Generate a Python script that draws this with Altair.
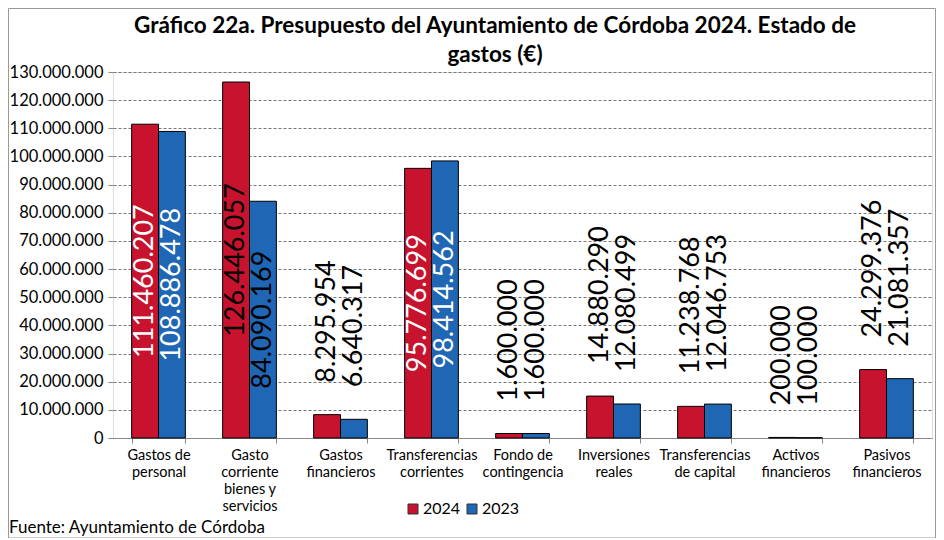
import altair as alt
import pandas as pd

categories = ["Gastos de|personal", "Gasto|corriente|bienes y|servicios", "Gastos|financieros",
              "Transferencias|corrientes", "Fondo de|contingencia", "Inversiones|reales",
              "Transferencias|de capital", "Activos|financieros", "Pasivos|financieros"]
years = ["2024", "2023"]
v2024 = [111460207, 126446057, 8295954, 95776699, 1600000, 14880290, 11238768, 200000, 24299376]
v2023 = [108886478, 84090169, 6640317, 98414562, 1600000, 12080499, 12046753, 100000, 21081357]
y_ticks = [0, 10000000, 20000000, 30000000, 40000000, 50000000, 60000000, 70000000,
           80000000, 90000000, 100000000, 110000000, 120000000, 130000000]
title_lines = ["Gráfico 22a. Presupuesto del Ayuntamiento de Córdoba 2024. Estado de", "gastos (€)"]
source = "Fuente: Ayuntamiento de Córdoba"

rows = []
for i, c in enumerate(categories):
    rows.append({"cat": c, "year": "2024", "value": v2024[i]})
    rows.append({"cat": c, "year": "2023", "value": v2023[i]})
df = pd.DataFrame(rows)

W, H = 819, 366
RED, BLUE = "#C8132E", "#1F67B4"
FONT = "Lato"

xaxis = alt.Axis(labelExpr="isValid(datum.value) ? split(datum.value, '|') : ''",
                 labelAngle=0, tickBand="extent", title=None,
                 labelFont=FONT, labelFontSize=14.5, labelColor="#000", labelLineHeight=17,
                 labelPadding=5, tickSize=5, tickColor="#888", domainColor="#888",
                 labelBaseline="top")
yaxis = alt.Axis(values=y_ticks, format=",d", labelOverlap=False, title=None,
                 labelFont=FONT, labelFontSize=16.5, labelColor="#000",
                 gridDash=[3, 2], gridColor="#777", gridWidth=1,
                 tickSize=5, tickColor="#888", domain=False, labelPadding=5)
xscale = alt.Scale(paddingInner=0.41, paddingOuter=0.205)
yscale = alt.Scale(domain=[0, 130000000], nice=False)
xenc = alt.X("cat:N", sort=categories, scale=xscale, axis=xaxis)
xoff = alt.XOffset("year:N", sort=years, scale=alt.Scale(paddingInner=0, paddingOuter=0))

bars = alt.Chart(df).mark_bar(stroke="#000", strokeWidth=1).encode(
    x=xenc, xOffset=xoff,
    y=alt.Y("value:Q", scale=yscale, axis=yaxis),
    color=alt.Color("year:N", scale=alt.Scale(domain=years, range=[RED, BLUE]), title=None,
                    legend=alt.Legend(orient="none", legendX=292, legendY=429, direction="horizontal",
                                      symbolType="square", symbolSize=100, symbolStrokeColor="#333",
                                      symbolStrokeWidth=1, labelFont=FONT, labelFontSize=16,
                                      labelColor="#000", columnPadding=3, labelOffset=2)),
)

inside = alt.Chart(df).transform_filter("datum.value > 50000000").transform_calculate(
    half="datum.value / 2").mark_text(angle=270, font=FONT, fontSize=27,
                                      baseline="middle", align="center").encode(
    x=xenc, xOffset=xoff,
    y=alt.Y("half:Q", scale=yscale, axis=yaxis),
    text=alt.Text("value:Q", format=",d"),
    color=alt.condition("indexof(datum.cat, 'corriente|bienes') >= 0", alt.value("#000"), alt.value("#fff")),
)

outside = alt.Chart(df).transform_filter("datum.value <= 50000000").mark_text(
    angle=270, font=FONT, fontSize=27, baseline="middle", align="left", dx=32, color="#000").encode(
    x=xenc, xOffset=xoff,
    y=alt.Y("value:Q", scale=yscale, axis=yaxis),
    text=alt.Text("value:Q", format=",d"),
)

one = pd.DataFrame({"t": [0]})
t1 = alt.Chart(one).mark_text(text=title_lines[0], font=FONT, fontWeight="bold",
                              fontSize=22.5, align="center", baseline="alphabetic", color="#000").encode(
    x=alt.value(382), y=alt.value(-39))
t2 = alt.Chart(one).mark_text(text=title_lines[1], font=FONT, fontWeight="bold",
                              fontSize=22.5, align="center", baseline="alphabetic", color="#000").encode(
    x=alt.value(382), y=alt.value(-10))
src = alt.Chart(one).mark_text(text=source, font=FONT, fontSize=17, align="left",
                               baseline="alphabetic", color="#000").encode(
    x=alt.value(-104), y=alt.value(461))
frame = alt.Chart(one).mark_rect(fill=None, stroke="#999", strokeWidth=1).encode(
    x=alt.value(-104.5), x2=alt.value(W + 3.5), y=alt.value(-63.5), y2=alt.value(H + 100))

chart = alt.layer(frame, bars, inside, outside, t1, t2, src).properties(
    width=W, height=H, autosize=alt.AutoSizeParams(type="none"),
    padding={"left": 105, "top": 64, "right": 4, "bottom": 100},
).configure_view(stroke="#aaa", strokeWidth=1).configure(
    locale={"number": {"decimal": ",", "thousands": ".", "grouping": [3], "currency": ["", " €"]}}
)

chart.save("out.html", embed_options={"renderer": "svg", "actions": False})
